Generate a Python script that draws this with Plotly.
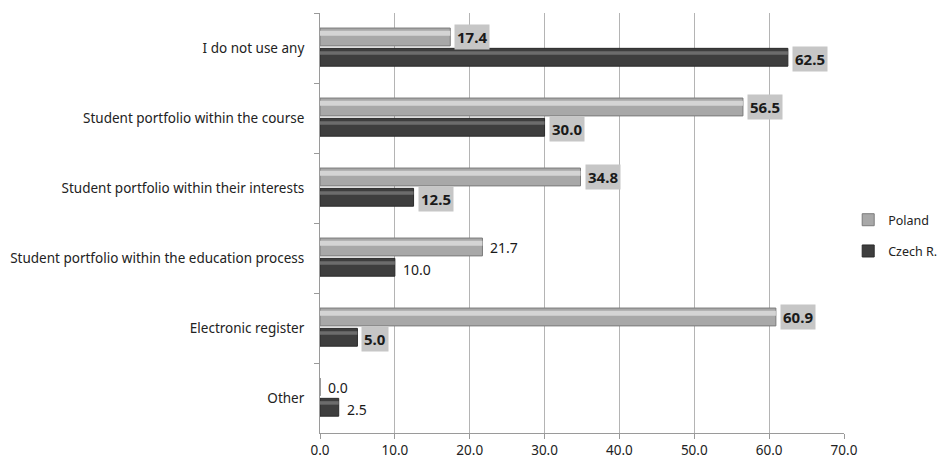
import plotly.graph_objects as go

categories = ["I do not use any", "Student portfolio within the course",
              "Student portfolio within their interests",
              "Student portfolio within the education process",
              "Electronic register", "Other"]
poland = [17.4, 56.5, 34.8, 21.7, 60.9, 0.0]
czech = [62.5, 30.0, 12.5, 10.0, 5.0, 2.5]
poland_boxed = [True, True, True, False, True, False]
czech_boxed = [True, True, True, False, True, False]
x_ticks = [0, 10, 20, 30, 40, 50, 60, 70]

FONT = "Noto Sans"
W = 0.255
OFF_P = -0.285
OFF_C = 0.005

fig = go.Figure()
# main bars
fig.add_trace(go.Bar(y=categories, x=poland, orientation="h", name="Poland",
                     marker=dict(color="#a8a8a8", line=dict(color="#7a7a7a", width=1)),
                     width=W, offset=OFF_P, legendgroup="p"))
fig.add_trace(go.Bar(y=categories, x=czech, orientation="h", name="Czech R.",
                     marker=dict(color="#3e3e3e", line=dict(color="#2a2a2a", width=1)),
                     width=W, offset=OFF_C, legendgroup="c"))
# highlight strips (3D look)
fig.add_trace(go.Bar(y=categories, x=poland, orientation="h", showlegend=False,
                     marker=dict(color="#d4d4d4", line=dict(width=0)),
                     width=0.07, offset=OFF_P + 0.04, hoverinfo="skip"))
fig.add_trace(go.Bar(y=categories, x=czech, orientation="h", showlegend=False,
                     marker=dict(color="#6c6c6c", line=dict(width=0)),
                     width=0.05, offset=OFF_C + 0.04, hoverinfo="skip"))

annotations = []
for series, boxes, shift in ((poland, poland_boxed, 11), (czech, czech_boxed, -11)):
    for cat, v, boxed in zip(categories, series, boxes):
        annotations.append(dict(
            x=v, y=cat, xref="x", yref="y",
            text=f"<b>{v:.1f}</b>" if boxed else f"{v:.1f}",
            showarrow=False, xanchor="left", yanchor="middle",
            xshift=4 if boxed else 5, yshift=shift,
            font=dict(family=FONT, size=15 if boxed else 14, color="#1a1a1a"),
            bgcolor="#c6c6c6" if boxed else "rgba(0,0,0,0)", borderpad=2))

fig.update_layout(
    width=940, height=453,
    margin=dict(l=312, r=104, t=5, b=28, autoexpand=False),
    barmode="overlay",
    plot_bgcolor="white", paper_bgcolor="white",
    font=dict(family=FONT, size=13.5, color="#222222"),
    annotations=annotations,
    showlegend=True,
    legend=dict(x=1.008, y=0.47, xanchor="left", yanchor="middle",
                traceorder="grouped", tracegroupgap=12, itemwidth=30,
                font=dict(family=FONT, size=12.5, color="#222222")),
    xaxis=dict(range=[0, 70], tickvals=x_ticks, ticktext=[f"{t:.1f}" for t in x_ticks],
               showgrid=True, gridcolor="#b4b4b4", gridwidth=1, automargin=False,
               showline=True, linecolor="#9a9a9a", ticks="outside", ticklen=5,
               tickcolor="#9a9a9a", zeroline=False,
               tickfont=dict(family=FONT, size=13.5, color="#222222")),
    yaxis=dict(autorange="reversed", showline=True, linecolor="#9a9a9a",
               ticks="outside", ticklen=5, tickcolor="#9a9a9a", tickson="boundaries",
               showgrid=False, ticklabelstandoff=12, automargin=False,
               tickfont=dict(family=FONT, size=13.5, color="#222222")),
)

fig.write_html("out.html")
